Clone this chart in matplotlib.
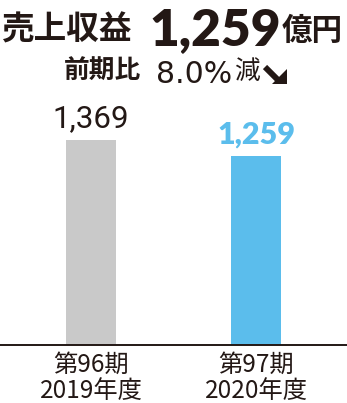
import matplotlib
matplotlib.use("Agg")
import matplotlib.pyplot as plt
from matplotlib.patches import Polygon
from matplotlib.transforms import IdentityTransform, blended_transform_factory

periods = ["第96期", "第97期"]
fiscal_years = ["2019年度", "2020年度"]
values = [1369, 1259]
value_labels = ["1,369", "1,259"]
bar_colors = ["#c9c9c9", "#5bbdec"]
title_label = "売上収益"
title_value = "1,259"
title_unit = "億円"
sub_label = "前期比"
sub_value = "8.0%"
sub_unit = "減"

INK = "#231815"
W, H = 347, 403
fig = plt.figure(figsize=(W / 100, H / 100), dpi=100)

JP = ["Noto Sans CJK JP", "DejaVu Sans"]
LAT = ["Lato", "DejaVu Sans"]

ax = fig.add_axes([0, (H - 345) / H, 1, (345 - 140) / H])
x = list(range(len(values)))
ax.bar(x, values, width=0.30, color=bar_colors)
ax.set_xlim(-0.5515, 1.5515)
ax.set_ylim(0, max(values))
for s in ["top", "left", "right"]:
    ax.spines[s].set_visible(False)
ax.spines["bottom"].set_color(INK)
ax.spines["bottom"].set_linewidth(1.4)
ax.set_yticks([])
ax.set_xticks([])

tr = blended_transform_factory(ax.transData, IdentityTransform())
for xi, p, fyr in zip(x, periods, fiscal_years):
    ax.text(xi, H - 371.5, p, transform=tr, ha="center", va="baseline",
            fontsize=17.5, fontfamily=JP, color=INK)
    ax.text(xi, H - 398, fyr, transform=tr, ha="center", va="baseline",
            fontsize=17.5, fontfamily=JP, color=INK)

ax.annotate(value_labels[0], (x[0], values[0]), xytext=(0, 9), textcoords="offset points",
            ha="center", va="baseline", fontsize=22.5, fontfamily=["Roboto", "DejaVu Sans"],
            fontweight="normal", color=INK, annotation_clip=False)
ax.annotate(value_labels[1], (x[1], values[1]), xytext=(0, 9), textcoords="offset points",
            ha="center", va="baseline", fontsize=22, fontfamily=LAT,
            fontweight="heavy", color=bar_colors[1], annotation_clip=False)

def fx(px):
    return px / W

def fy(px):
    return (H - px) / H

fig.text(fx(1), fy(30), title_label, ha="left", va="center", fontsize=23.5,
         fontfamily=JP, fontweight="bold", color=INK)
fig.text(fx(149), fy(45), title_value, ha="left", va="baseline", fontsize=37,
         fontfamily=LAT, fontweight="heavy", color=INK)
fig.text(fx(282), fy(31), title_unit, ha="left", va="center", fontsize=22,
         fontfamily=JP, fontweight="bold", color=INK)
fig.text(fx(64), fy(71.5), sub_label, ha="left", va="center", fontsize=18.5,
         fontfamily=JP, fontweight="bold", color=INK)
fig.text(fx(194.5), fy(83), sub_value, ha="center", va="baseline", fontsize=21.5,
         fontfamily=["DejaVu Sans"], fontweight="normal", color=INK)
fig.text(fx(234), fy(71.5), sub_unit, ha="left", va="center", fontsize=18.5,
         fontfamily=JP, fontweight="normal", color=INK)

arrow_px = [(262.9, 69.1), (267.1, 64.9), (279.1, 76.9), (287, 69),
            (287, 84), (272, 84), (274.9, 81.1)]
fig.patches.append(Polygon([(px, H - py) for px, py in arrow_px], closed=True,
                           transform=IdentityTransform(), facecolor=INK,
                           edgecolor="none", figure=fig))

fig.savefig("out.png", dpi=100)
